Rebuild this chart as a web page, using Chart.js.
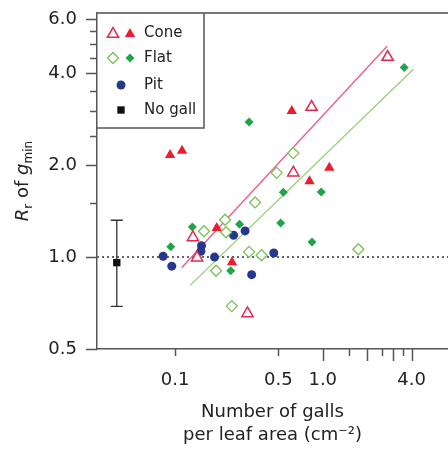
<!DOCTYPE html>
<html><head><meta charset="utf-8">
<script src="https://cdn.jsdelivr.net/npm/chart.js@4/dist/chart.umd.min.js"></script>
<style>html,body{margin:0;padding:0;background:#fff;} canvas{display:block;}</style>
</head><body>
<canvas id="c" width="448" height="453"></canvas>
<script>
// ---- data ----
const coneFilledX = [0.0925, 0.1115, 0.1915, 0.243, 0.617, 0.814, 1.108];
const coneFilledY = [2.16, 2.23, 1.245, 0.962, 3.01, 1.77, 1.96];
const coneOpenX = [0.132, 0.141, 0.309, 0.632, 0.84, 2.75];
const coneOpenY = [1.16, 0.995, 0.654, 1.89, 3.10, 4.52];
const flatFilledX = [0.0935, 0.131, 0.238, 0.2733, 0.317, 0.519, 0.541, 0.846, 0.977, 3.56];
const flatFilledY = [1.08, 1.255, 0.902, 1.281, 2.77, 1.294, 1.63, 1.12, 1.635, 4.18];
const flatOpenX = [0.157, 0.1895, 0.218, 0.2215, 0.242, 0.317, 0.348, 0.385, 0.487, 0.632, 1.742];
const flatOpenY = [1.215, 0.902, 1.325, 1.206, 0.691, 1.04, 1.51, 1.014, 1.887, 2.19, 1.061];
const pitX = [0.083, 0.095, 0.151, 0.1495, 0.185, 0.249, 0.298, 0.33, 0.466];
const pitY = [1.006, 0.934, 1.089, 1.045, 1.0, 1.179, 1.218, 0.876, 1.031];
const noGallX = [0.0403];
const noGallY = [0.959];
const noGallLow = [0.69];
const noGallHigh = [1.32];
const coneFitX = [0.111, 2.737];
const coneFitY = [0.924, 4.91];
const flatFitX = [0.1264, 4.106];
const flatFitY = [0.808, 4.12];
const referenceY = [1.0];
const xTickValues = [0.1, 0.5, 1, 1.5, 2, 2.5, 3, 3.5, 4];
const xTickLabels = ['0.1', '0.5', '1.0', '', '', '', '', '', '4.0'];
const yTickValues = [0.5, 1, 1.5, 2, 2.5, 3, 3.5, 4, 4.5, 5, 5.5, 6];
const yTickLabels = ['0.5', '1.0', '', '2.0', '', '', '', '4.0', '', '', '', '6.0'];
const legendLabels = ['Cone', 'Flat', 'Pit', 'No gall'];

// ---- styles ----
const C = {
  coneFill: '#ee1d2e', coneOpen: '#e8264f', coneLine: '#ef5a80',
  flatFill: '#1ea646', flatOpen: '#78c257', flatLine: '#93cf78',
  pit: '#25378f', noGall: '#111111', axis: '#555555', text: '#222222'
};
const xLong = [1, 2, 3, 4];
const yLong = [0.5, 1, 2, 4, 6];
Chart.defaults.font.family = "'DejaVu Sans', sans-serif";

const pts = (xs, ys) => xs.map((x, i) => ({x: x, y: ys[i]}));
const pointSet = (label, xs, ys, style, r, bg, bc, bw) => ({
  label, data: pts(xs, ys), pointStyle: style, pointRadius: r,
  pointBackgroundColor: bg, pointBorderColor: bc, pointBorderWidth: bw,
  showLine: false, order: 0
});
const lineSet = (label, xs, ys, color) => ({
  label, data: pts(xs, ys), showLine: true, borderColor: color, borderWidth: 1.3,
  pointRadius: 0, fill: false, order: 2
});

function marker(ctx, style, x, y, r, fill, stroke, lw) {
  ctx.save();
  ctx.beginPath();
  if (style === 'triangle') {
    ctx.moveTo(x, y - r);
    ctx.lineTo(x + r * Math.sin(2 * Math.PI / 3), y - r * Math.cos(2 * Math.PI / 3));
    ctx.lineTo(x + r * Math.sin(4 * Math.PI / 3), y - r * Math.cos(4 * Math.PI / 3));
    ctx.closePath();
  } else if (style === 'rectRot') {
    ctx.moveTo(x - r, y); ctx.lineTo(x, y - r); ctx.lineTo(x + r, y); ctx.lineTo(x, y + r); ctx.closePath();
  } else if (style === 'rect') {
    const s = Math.SQRT1_2 * r; ctx.rect(x - s, y - s, 2 * s, 2 * s);
  } else {
    ctx.arc(x, y, r, 0, Math.PI * 2);
  }
  ctx.fillStyle = fill; ctx.fill();
  if (lw > 0) { ctx.strokeStyle = stroke; ctx.lineWidth = lw; ctx.stroke(); }
  ctx.restore();
}

const decor = {
  id: 'decor',
  beforeDatasetsDraw(chart) {
    const {ctx, chartArea: a, scales: {x, y}} = chart;
    ctx.save();
    const ry = y.getPixelForValue(referenceY[0]);
    ctx.strokeStyle = '#666'; ctx.lineWidth = 2; ctx.setLineDash([2, 3]);
    ctx.beginPath(); ctx.moveTo(a.left, ry); ctx.lineTo(a.right, ry); ctx.stroke();
    ctx.setLineDash([]);
    for (let i = 0; i < noGallX.length; i++) {
      const px = x.getPixelForValue(noGallX[i]);
      const t = y.getPixelForValue(noGallHigh[i]);
      const b = y.getPixelForValue(noGallLow[i]);
      ctx.strokeStyle = '#333'; ctx.lineWidth = 1.3;
      ctx.beginPath();
      ctx.moveTo(px, t); ctx.lineTo(px, b);
      ctx.moveTo(px - 6, t); ctx.lineTo(px + 6, t);
      ctx.moveTo(px - 6, b); ctx.lineTo(px + 6, b);
      ctx.stroke();
    }
    ctx.restore();
  },
  afterDraw(chart) {
    const {ctx, chartArea: a, scales: {x, y}} = chart;
    ctx.save();
    ctx.strokeStyle = '#777'; ctx.lineWidth = 2;
    ctx.beginPath(); ctx.moveTo(a.left, a.top); ctx.lineTo(a.right, a.top); ctx.stroke();
    ctx.strokeStyle = C.axis; ctx.lineWidth = 1.5;
    ctx.beginPath();
    xTickValues.forEach(v => {
      const px = Math.round(x.getPixelForValue(v)) + 0.5;
      const len = xLong.includes(v) ? 12 : 7;
      ctx.moveTo(px, a.bottom); ctx.lineTo(px, a.bottom + len);
    });
    yTickValues.forEach(v => {
      const py = Math.round(y.getPixelForValue(v)) + 0.5;
      const len = yLong.includes(v) ? 11 : 7;
      ctx.moveTo(a.left, py); ctx.lineTo(a.left - len, py);
    });
    ctx.stroke();
    const L = a.left, T = a.top, W = 107, H = 115;
    ctx.fillStyle = '#fff';
    ctx.fillRect(L + 1, T + 1, W - 1, H - 1);
    ctx.strokeStyle = '#555'; ctx.lineWidth = 1.5;
    ctx.beginPath(); ctx.moveTo(L, T + H); ctx.lineTo(L + W, T + H); ctx.lineTo(L + W, T); ctx.stroke();
    const rows = [T + 20, T + 45, T + 72, T + 97];
    marker(ctx, 'triangle', L + 16, rows[0] + 1, 6.5, '#fff', C.coneOpen, 1.5);
    marker(ctx, 'triangle', L + 33, rows[0] + 1, 6, C.coneFill, C.coneFill, 0);
    marker(ctx, 'rectRot', L + 16, rows[1], 5.5, '#fff', C.flatOpen, 1.3);
    marker(ctx, 'rectRot', L + 33, rows[1], 4.5, C.flatFill, C.flatFill, 0);
    marker(ctx, 'circle', L + 24, rows[2], 4.5, C.pit, C.pit, 0);
    marker(ctx, 'rect', L + 24, rows[3], 5.2, C.noGall, C.noGall, 0);
    ctx.fillStyle = C.text; ctx.font = "15px 'DejaVu Sans'";
    ctx.textBaseline = 'middle'; ctx.textAlign = 'left';
    legendLabels.forEach((t, i) => ctx.fillText(t, L + 47, rows[i]));
    const parts = [
      {t: 'R', f: "italic 18px 'DejaVu Sans'", dy: 0},
      {t: 'r', f: "12px 'DejaVu Sans'", dy: 4},
      {t: ' of ', f: "18px 'DejaVu Sans'", dy: 0},
      {t: 'g', f: "italic 18px 'DejaVu Sans'", dy: 0},
      {t: 'min', f: "12px 'DejaVu Sans'", dy: 4}
    ];
    let total = 0;
    parts.forEach(p => { ctx.font = p.f; p.w = ctx.measureText(p.t).width; total += p.w; });
    ctx.translate(28, (a.top + a.bottom) / 2);
    ctx.rotate(-Math.PI / 2);
    ctx.textBaseline = 'alphabetic';
    let cx = -total / 2;
    parts.forEach(p => { ctx.font = p.f; ctx.fillText(p.t, cx, p.dy); cx += p.w; });
    ctx.restore();
  }
};

const zeroPad = s => { s.paddingTop = 0; s.paddingBottom = 0; s.paddingLeft = 0; s.paddingRight = 0; };

new Chart(document.getElementById('c'), {
  type: 'scatter',
  data: {
    datasets: [
      lineSet('Cone fit', coneFitX, coneFitY, C.coneLine),
      lineSet('Flat fit', flatFitX, flatFitY, C.flatLine),
      pointSet('Flat open', flatOpenX, flatOpenY, 'rectRot', 5.5, '#fff', C.flatOpen, 1.3),
      pointSet('Cone open', coneOpenX, coneOpenY, 'triangle', 6.5, '#fff', C.coneOpen, 1.5),
      pointSet('Flat', flatFilledX, flatFilledY, 'rectRot', 4.5, C.flatFill, C.flatFill, 0),
      pointSet('Cone', coneFilledX, coneFilledY, 'triangle', 6, C.coneFill, C.coneFill, 0),
      pointSet('Pit', pitX, pitY, 'circle', 4.5, C.pit, C.pit, 0),
      pointSet('No gall', noGallX, noGallY, 'rect', 5.2, C.noGall, C.noGall, 0)
    ]
  },
  options: {
    responsive: false, animation: false, devicePixelRatio: 1, events: [],
    layout: {padding: {top: 13, right: 0, bottom: 0, left: 0}, autoPadding: false},
    plugins: {legend: {display: false}, tooltip: {enabled: false}},
    scales: {
      x: {
        type: 'logarithmic', position: 'bottom', min: 0.0296, max: 7.05, bounds: 'data',
        afterBuildTicks: s => { s.ticks = xTickValues.map(v => ({value: v})); },
        afterFit: s => { s.height = 104; zeroPad(s); },
        grid: {display: false, drawTicks: false},
        border: {display: true, color: C.axis, width: 1.5},
        ticks: {autoSkip: false, maxRotation: 0, minRotation: 0, padding: 21, color: C.text,
          font: {size: 18}, callback: (v, i) => xTickLabels[i]},
        title: {display: true, text: ['Number of galls', 'per leaf area (cm\u207B\u00B2)'],
          font: {size: 18, lineHeight: 1.3}, color: C.text, padding: {top: 0, bottom: 6}}
      },
      y: {
        type: 'logarithmic', position: 'left', min: 0.5, max: 6.3, bounds: 'data',
        afterBuildTicks: s => { s.ticks = yTickValues.map(v => ({value: v})); },
        afterFit: s => { s.width = 97; zeroPad(s); },
        grid: {display: false, drawTicks: false},
        border: {display: true, color: C.axis, width: 1.5},
        ticks: {autoSkip: false, padding: 20, color: C.text, font: {size: 18},
          callback: (v, i) => yTickLabels[i]}
      }
    }
  },
  plugins: [decor]
});
</script>
</body></html>
